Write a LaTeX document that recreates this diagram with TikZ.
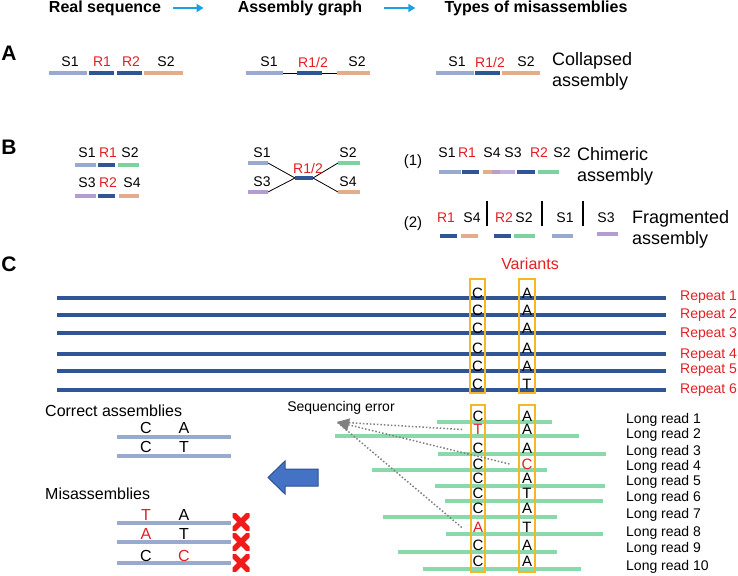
\documentclass[tikz,border=0pt]{standalone}
\usepackage{fontspec}
\setmainfont{Liberation Sans}
\usepackage{xcolor}
\usepackage{tikz}
\usetikzlibrary{arrows.meta, positioning, calc}

\definecolor{segLight}{HTML}{98AACD}
\definecolor{segDark}{HTML}{2F5597}
\definecolor{segOrange}{HTML}{E3AC8B}
\definecolor{segGreen}{HTML}{7DD3A0}
\definecolor{segPurple}{HTML}{B29CD2}
\definecolor{readGreen}{HTML}{88DAAA}
\definecolor{flowCyan}{HTML}{1BA1E2}
\definecolor{redTxt}{HTML}{E31E24}
\definecolor{redMark}{HTML}{F21A1A}
\definecolor{boxGold}{HTML}{F4B825}
\definecolor{bigBlue}{HTML}{4472C4}
\definecolor{bigBlueEdge}{HTML}{2F528F}

\tikzset{
  lbl/.style={font=\fontsize{14}{16}\selectfont, inner sep=0pt},
  rlbl/.style={lbl, text=redTxt},
  base/.style={lbl, font=\fontsize{15}{17}\selectfont},
  head/.style={font=\bfseries\fontsize{16}{19}\selectfont, inner sep=0pt},
  panel/.style={font=\bfseries\fontsize{21}{24}\selectfont, inner sep=0pt},
  desc/.style={font=\fontsize{18}{21}\selectfont, inner sep=0pt, align=left, anchor=west},
  seg/.style={line width=3.5pt},
  link/.style={line width=0.8pt, black},
  flow/.style={line width=2pt, flowCyan, -{Triangle[length=7pt,width=8pt]}},
  repeatline/.style={line width=4.5pt, segDark},
  readline/.style={line width=4pt, readGreen},
  varbox/.style={draw=boxGold, line width=2pt},
  errline/.style={gray, line width=1.5pt, dotted},
  xmark/.style={minimum size=17pt, inner sep=0pt,
    path picture={\draw[redMark, line width=5.5pt]
      (path picture bounding box.south west) -- (path picture bounding box.north east)
      (path picture bounding box.north west) -- (path picture bounding box.south east);}}
}

\begin{document}
\begin{tikzpicture}[x=1pt, y=-1pt]
    \useasboundingbox (0,0) rectangle (738,575);

    % Headers
    \node[head] (hreal) at (105,8) {Real sequence};
    \node[head] (hgraph) at (300,8) {Assembly graph};
    \node[head] (htypes) at (536,8) {Types of misassemblies};
    \draw[flow] ([xshift=12pt]hreal.east) -- ([xshift=-34pt]hgraph.west);
    \draw[flow] ([xshift=22pt]hgraph.east) -- ([xshift=-29pt]htypes.west);

    % Panel A
    \node[panel] (pa) at (9,53) {A};
    \node[lbl] (as1) at (70,62) {S1};
    \node[rlbl] (ar1) at (102,62) {R1};
    \node[rlbl] (ar2) at (131,62) {R2};
    \node[lbl] (as2) at (166,62) {S2};
    \draw[seg, segLight] (49,73) -- (87,73);
    \draw[seg, segDark] (89,73) -- (114,73);
    \draw[seg, segDark] (117,73) -- (142,73);
    \draw[seg, segOrange] (144,73) -- (183,73);

    \node[lbl] (gs1) at (269,62) {S1};
    \node[rlbl] (gr) at (313,62) {R1/2};
    \node[lbl] (gs2) at (357,62) {S2};
    \coordinate (ga1) at (283,73);
    \coordinate (ga2) at (297,73);
    \coordinate (ga3) at (322,73);
    \coordinate (ga4) at (337,73);
    \draw[link] (ga1) -- (ga2);
    \draw[link] (ga3) -- (ga4);
    \draw[seg, segLight] (246,73) -- (ga1);
    \draw[seg, segDark] (ga2) -- (ga3);
    \draw[seg, segOrange] (ga4) -- (370,73);

    \node[lbl] (ts1) at (457,62) {S1};
    \node[rlbl] (tr) at (490,62) {R1/2};
    \node[lbl] (ts2) at (526,62) {S2};
    \draw[seg, segLight] (436,73) -- (474,73);
    \draw[seg, segDark] (475,73) -- (500,73);
    \draw[seg, segOrange] (502,73) -- (540,73);
    \node[desc] (collapsed) at (552,71) {Collapsed\\assembly};

    % Panel B
    \node[panel] (pb) at (9,147) {B};
    \node[lbl] (bs1) at (87,153) {S1};
    \node[rlbl] (br1) at (108,153) {R1};
    \node[lbl] (bs2) at (130,153) {S2};
    \draw[seg, segLight] (75,165) -- (96,165);
    \draw[seg, segDark] (98,165) -- (115,165);
    \draw[seg, segGreen] (118,165) -- (139,165);
    \node[lbl] (bs3) at (87,183) {S3};
    \node[rlbl] (br2) at (108,183) {R2};
    \node[lbl] (bs4) at (132,183) {S4};
    \draw[seg, segPurple] (75,196) -- (96,196);
    \draw[seg, segDark] (98,196) -- (115,196);
    \draw[seg, segOrange] (119,196) -- (139,196);

    \coordinate (gb1) at (268,163);
    \coordinate (gb3) at (268,192);
    \coordinate (gbl) at (295,178);
    \coordinate (gbr) at (313,178);
    \coordinate (gb2) at (338,163);
    \coordinate (gb4) at (338,192);
    \draw[link] (gb1) -- (gbl);
    \draw[link] (gb3) -- (gbl);
    \draw[link] (gbr) -- (gb2);
    \draw[link] (gbr) -- (gb4);
    \draw[seg, segLight] (248,163) -- (gb1);
    \draw[seg, segPurple] (248,192) -- (gb3);
    \draw[seg, segDark] (gbl) -- (gbr);
    \draw[seg, segGreen] (gb2) -- (360,163);
    \draw[seg, segOrange] (gb4) -- (360,192);
    \node[lbl] (hs1) at (262,153) {S1};
    \node[lbl] (hs3) at (262,182) {S3};
    \node[rlbl] (hr) at (308,168) {R1/2};
    \node[lbl] (hs2) at (348,153) {S2};
    \node[lbl] (hs4) at (348,182) {S4};

    % (1) chimeric
    \node[base] (one) at (413,162) {(1)};
    \node[lbl] (cs1) at (447,153) {S1};
    \node[rlbl] (cr1) at (467,153) {R1};
    \node[lbl] (cs4) at (492,153) {S4};
    \node[lbl] (cs3) at (513,153) {S3};
    \node[rlbl] (cr2) at (539,153) {R2};
    \node[lbl] (cs2) at (562,153) {S2};
    \draw[seg, segLight] (439,172) -- (461,172);
    \draw[seg, segDark] (462,172) -- (479,172);
    \draw[seg, segOrange] (483,172) -- (500,172);
    \draw[seg, segPurple, opacity=0.8] (492,172) -- (515,172);
    \draw[seg, segDark] (517,172) -- (535,172);
    \draw[seg, segGreen] (538,172) -- (559,172);
    \node[desc] (chimeric) at (577,166) {Chimeric\\assembly};

    % (2) fragmented
    \node[base] (two) at (413,224) {(2)};
    \node[rlbl] (fr1) at (446,218) {R1};
    \node[lbl] (fs4) at (472,218) {S4};
    \node[rlbl] (fr2) at (504,218) {R2};
    \node[lbl] (fs2) at (524,218) {S2};
    \node[lbl] (fs1) at (565,218) {S1};
    \node[lbl] (fs3) at (606,218) {S3};
    \draw[line width=1.2pt] (487,201) -- (487,226);
    \draw[line width=1.2pt] (542,201) -- (542,226);
    \draw[line width=1.2pt] (583,201) -- (583,226);
    \draw[seg, segDark] (440,236) -- (457,236);
    \draw[seg, segOrange] (461,236) -- (478,236);
    \draw[seg, segDark] (494,236) -- (511,236);
    \draw[seg, segGreen] (514,236) -- (535,236);
    \draw[seg, segLight] (552,236) -- (573,236);
    \draw[seg, segPurple] (597,234) -- (618,234);
    \node[desc] (fragmented) at (632,229) {Fragmented\\assembly};

    % Panel C: repeats
    \node[panel] (pc) at (9,264) {C};
    \node[rlbl, font=\fontsize{16}{19}\selectfont] (variants) at (530,264) {Variants};
    \foreach \y/\ly [count=\i] in {298/297, 315/315, 333/334, 354/355, 371/370, 390/390} {
        \draw[repeatline] (57,\y) -- (666,\y);
        \node[rlbl, anchor=west] (rp\i) at (680,\ly) {Repeat \i};
    }
    \draw[varbox] (470,279) rectangle (485,393);
    \draw[varbox] (519,279) rectangle (535,393);
    \foreach \y/\a [count=\i] in {293/A, 310/A, 328/A, 348/A, 366/A, 384/T} {
        \node[base] (rc\i) at (477.5,\y) {C};
        \node[base] (ra\i) at (527,\y) {\a};
    }

    % Long reads
    \foreach \y/\xa/\xb in {422/437/552, 436/335/579, 454/438/606, 470/372/547, 486/435/605,
                            501/445/603, 517/383/557, 534/446/603, 552/398/557, 569/423/581} {
        \draw[readline] (\xa,\y) -- (\xb,\y);
    }
    \draw[varbox] (471,405) rectangle (485,572);
    \draw[varbox] (519,405) rectangle (535,572);
    \foreach \y/\c/\cc/\a/\ac [count=\i] in {416/C/black/A/black, 429.5/T/redTxt/A/black,
            448.5/C/black/A/black, 464/C/black/C/redTxt, 478.5/C/black/A/black,
            493.5/C/black/T/black, 508.5/C/black/A/black, 527.5/A/redTxt/T/black,
            545.5/C/black/A/black, 561.5/C/black/A/black} {
        \node[base, text=\cc] (lc\i) at (478,\y) {\c};
        \node[base, text=\ac] (la\i) at (527,\y) {\a};
    }
    \foreach \y [count=\i] in {420,435,452,467,482,498,515,533,549,567} {
        \node[lbl, anchor=west] (lr\i) at (626,\y) {Long read \i};
    }

    % Sequencing errors
    \node[lbl] (seqerr) at (341,408) {Sequencing error};
    \coordinate (errtip) at (337,422);
    \draw[errline] ([xshift=-11pt]lc2.west) -- (errtip);
    \draw[errline] ([xshift=-11pt]lc8.west) -- (errtip);
    \draw[errline, -{Triangle[length=12pt,width=13pt]}] ([xshift=-12pt]la4.west) -- (errtip);

    % Resolved assemblies
    \node[lbl, anchor=west, font=\fontsize{16}{19}\selectfont] (correct) at (45,411) {Correct assemblies};
    \draw[seg, segLight] (117,437) -- (231,437);
    \draw[seg, segLight] (117,456) -- (231,456);
    \node[lbl, font=\fontsize{16}{19}\selectfont] (ok1c) at (146,428) {C};
    \node[lbl, font=\fontsize{16}{19}\selectfont] (ok1a) at (184,428) {A};
    \node[lbl, font=\fontsize{16}{19}\selectfont] (ok2c) at (146,447) {C};
    \node[lbl, font=\fontsize{16}{19}\selectfont] (ok2a) at (184,447) {T};

    \filldraw[fill=bigBlue, draw=bigBlueEdge, line width=1pt]
        (318,469) -- (285,469) -- (285,461) -- (268,477.5) -- (285,494) -- (285,486) -- (318,486) -- cycle;

    \node[lbl, anchor=west, font=\fontsize{16}{19}\selectfont] (mis) at (45,494) {Misassemblies};
    \draw[seg, segLight] (117,523) -- (231,523);
    \draw[seg, segLight] (117,542) -- (231,542);
    \draw[seg, segLight] (117,563) -- (231,563);
    \node[lbl, font=\fontsize{16}{19}\selectfont, text=redTxt] (bad1c) at (146,515) {T};
    \node[lbl, font=\fontsize{16}{19}\selectfont] (bad1a) at (184,515) {A};
    \node[lbl, font=\fontsize{16}{19}\selectfont, text=redTxt] (bad2c) at (146,534) {A};
    \node[lbl, font=\fontsize{16}{19}\selectfont] (bad2a) at (184,534) {T};
    \node[lbl, font=\fontsize{16}{19}\selectfont] (bad3c) at (146,556) {C};
    \node[lbl, font=\fontsize{16}{19}\selectfont, text=redTxt] (bad3a) at (184,556) {C};
    \node[xmark] (x1) at (241,522) {};
    \node[xmark] (x2) at (241,542) {};
    \node[xmark] (x3) at (241,563) {};
\end{tikzpicture}
\end{document}
